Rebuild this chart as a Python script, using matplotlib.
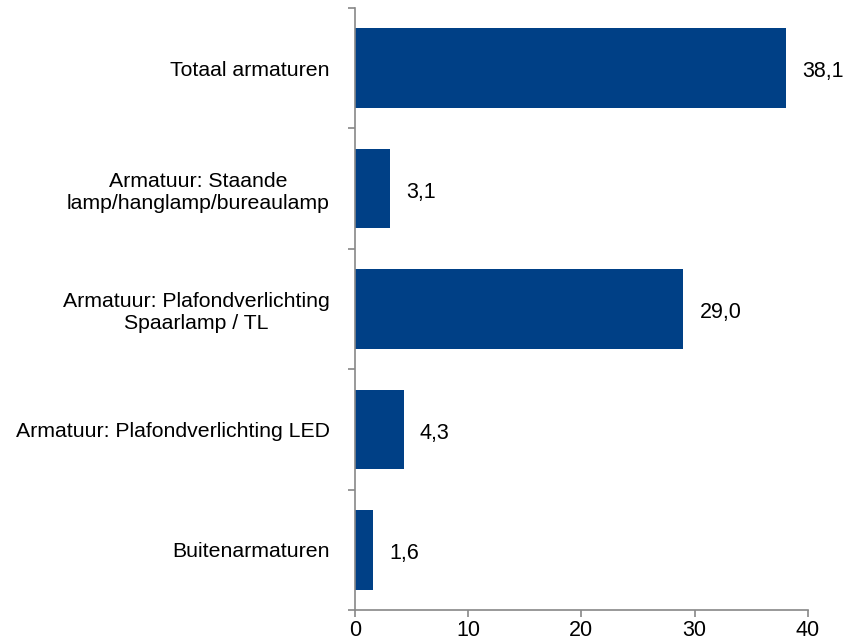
import matplotlib
matplotlib.use("Agg")
import matplotlib.pyplot as plt
import numpy as np

categories = [
    "Totaal armaturen",
    "Armatuur: Staande\nlamp/hanglamp/bureaulamp",
    "Armatuur: Plafondverlichting\nSpaarlamp / TL",
    "Armatuur: Plafondverlichting LED",
    "Buitenarmaturen",
]
values = [38.1, 3.1, 29.0, 4.3, 1.6]
xticks = [0, 10, 20, 30, 40]

plt.rcParams['font.family'] = ['Liberation Sans', 'DejaVu Sans']
plt.rcParams['font.size'] = 15

fig = plt.figure(figsize=(8.53, 6.43), dpi=100)
ax = fig.add_axes([0.416, 0.0513, 0.531, 0.9363])

bar_color = "#004086"
axis_color = "#888888"
y = np.arange(len(categories))
ax.barh(y, values, height=0.66, color=bar_color, zorder=2)
ax.set_ylim(len(categories) - 0.5, -0.5)
ax.set_xlim(0, 40)
ax.set_xticks(xticks)
ax.set_xticklabels([str(t) for t in xticks], fontsize=15.5)

ax.set_yticks(y)
ax.set_yticklabels(categories, multialignment='center', fontsize=15.3)
ax.set_yticks(np.arange(-0.5, len(categories), 1.0), minor=True)
ax.tick_params(axis='y', which='major', length=0, pad=18, labelcolor='black')
ax.tick_params(axis='y', which='minor', length=5, width=1.2, color=axis_color, direction='out')
ax.tick_params(axis='x', which='major', length=5, width=1.2, color=axis_color, pad=2)

for s in ['top', 'right']:
    ax.spines[s].set_visible(False)
for s in ['left', 'bottom']:
    ax.spines[s].set_color(axis_color)
    ax.spines[s].set_linewidth(1.2)

for yi, v in zip(y, values):
    ax.text(v + 1.45, yi + 0.03, f"{v:.1f}".replace('.', ','), va='center', ha='left', fontsize=15.5)

fig.savefig("out.png", dpi=100)
